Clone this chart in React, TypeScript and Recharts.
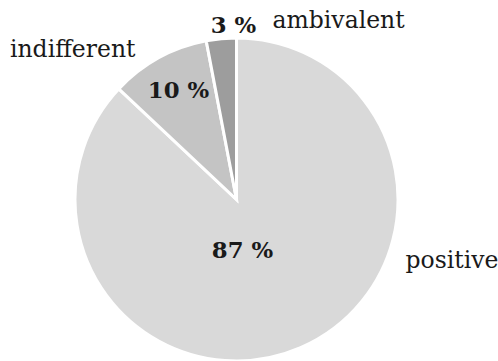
import { Pie, PieChart, Cell } from "recharts"

const categories = ["positive", "indifferent", "ambivalent"]
const shares = [87, 10, 3]
const colors = ["#d9d9d9", "#c4c4c4", "#9d9d9d"]

// where each slice's texts sit, relative to the pie centre (px)
const labelLayout: Record<string, { pct: [number, number]; name: [number, number]; anchor: "start" | "end" }> = {
  positive: { pct: [6, 58], name: [169, 68], anchor: "start" },
  indifferent: { pct: [-58, -102], name: [-101, -143], anchor: "end" },
  ambivalent: { pct: [-3, -167], name: [36, -172], anchor: "start" },
}

const data = categories.map((name, i) => ({ name, value: shares[i] }))

const font = "'DejaVu Serif', 'Liberation Serif', serif"

function renderLabel(props: any) {
  const { cx, cy, index } = props
  const entry = data[index]
  const layout = labelLayout[entry.name]
  return (
    <g>
      <text
        x={cx + layout.pct[0]}
        y={cy + layout.pct[1]}
        textAnchor="middle"
        fontFamily={font}
        fontWeight="bold"
        fontSize={22.8}
        fill="#1a1a1a"
      >
        {entry.value} %
      </text>
      <text
        x={cx + layout.name[0]}
        y={cy + layout.name[1]}
        textAnchor={layout.anchor}
        fontFamily={font}
        fontSize={23.5}
        fill="#1a1a1a"
      >
        {entry.name}
      </text>
    </g>
  )
}

export default function App() {
  return (
    <div style={{ position: "absolute", left: 0, top: 0, background: "#fff" }}>
      <PieChart width={498} height={361} margin={{ top: 0, right: 0, bottom: 0, left: 0 }}>
        <Pie
          data={data}
          dataKey="value"
          nameKey="name"
          cx={236.5}
          cy={199.5}
          outerRadius={161.5}
          startAngle={90}
          endAngle={-270}
          stroke="#ffffff"
          strokeWidth={3}
          label={renderLabel}
          labelLine={false}
          isAnimationActive={false}
        >
          {data.map((d, i) => (
            <Cell key={d.name} fill={colors[i]} />
          ))}
        </Pie>
      </PieChart>
    </div>
  )
}
